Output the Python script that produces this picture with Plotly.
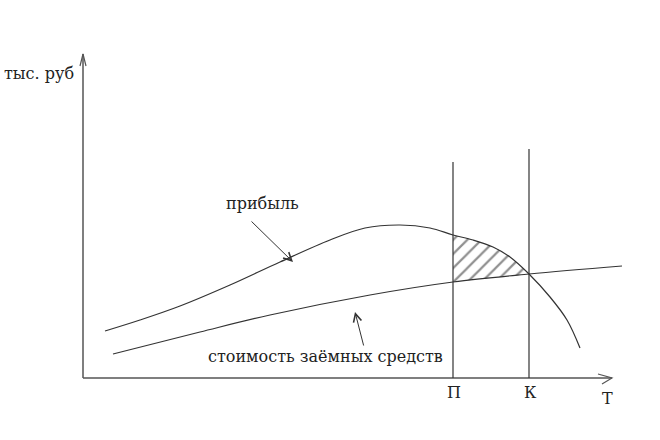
import plotly.graph_objects as go

# ---- data (arbitrary units: T on x, тыс. руб on y) ----
profit_x = [22, 57, 97, 147, 197, 247, 282, 317, 347, 370, 390, 410, 427, 446, 467, 484, 497]
profit_y = [47, 58, 72, 93, 116, 138, 150, 153, 150, 143, 138, 131, 121, 104, 81, 58, 30]

cost_x = [30, 117, 187, 287, 370, 446, 539]
cost_y = [24, 46, 63, 83, 96, 104, 112]

P_x = 370   # point П
K_x = 446   # point К
tick_vals = [P_x, K_x]
tick_text = ["П", "К"]

# hatched zone between П and К
hatch_profit_x = [370, 390, 410, 427, 446]
hatch_profit_y = [143, 138, 131, 121, 104]
hatch_cost_x = [370, 446]
hatch_cost_y = [96, 104]

X_END = 529
Y_END = 324

line_col = "#333333"
axis_col = "#555555"
text_col = "#222222"
FONT = "DejaVu Serif"

fig = go.Figure()
fig.add_trace(go.Scatter(x=profit_x, y=profit_y, mode="lines",
                         line=dict(color=line_col, width=1.2, shape="spline", smoothing=1.0),
                         hoverinfo="skip"))
fig.add_trace(go.Scatter(x=cost_x, y=cost_y, mode="lines",
                         line=dict(color=line_col, width=1.2, shape="spline"),
                         hoverinfo="skip"))
fig.add_trace(go.Scatter(x=hatch_cost_x, y=hatch_cost_y, mode="lines",
                         line=dict(width=0), hoverinfo="skip"))
fig.add_trace(go.Scatter(x=hatch_profit_x, y=hatch_profit_y, mode="lines",
                         line=dict(width=0, shape="spline"), fill="tonexty",
                         fillcolor="rgba(0,0,0,0)",
                         fillpattern=dict(shape="/", size=10, solidity=0.22,
                                          fgcolor="#222222", bgcolor="rgba(0,0,0,0)"),
                         hoverinfo="skip"))

shapes = [
    # axes
    dict(type="line", x0=0, y0=0, x1=X_END, y1=0, line=dict(color=axis_col, width=1.5)),
    dict(type="line", x0=0, y0=0, x1=0, y1=Y_END, line=dict(color=axis_col, width=1.5)),
    dict(type="path", path=f"M -3,{Y_END-12} L 0,{Y_END} L 3,{Y_END-12}",
         line=dict(color=axis_col, width=1.2)),
    dict(type="path", path=f"M {X_END-14},4 L {X_END},0 L {X_END-10},-6",
         line=dict(color=axis_col, width=1.2)),
    # verticals П and К
    dict(type="line", x0=P_x, y0=0, x1=P_x, y1=216, line=dict(color=line_col, width=1.2)),
    dict(type="line", x0=K_x, y0=0, x1=K_x, y1=229, line=dict(color=line_col, width=1.2)),
]

def label(x, y, text, xanchor="center"):
    return dict(x=x, y=y, text=text, showarrow=False, xanchor=xanchor, yanchor="middle",
                font=dict(family=FONT, size=16, color=text_col))

annotations = [
    label(-7, 305, "тыс. руб", xanchor="right"),
    label(179, 175, "прибыль"),
    label(242, 22, "стоимость заёмных средств"),
    label(X_END - 5, -20, "Т"),
]
for tv, tt in zip(tick_vals, tick_text):
    annotations.append(label(tv + 1, -14, tt))

annotations += [
    # pointer arrows
    dict(x=210, y=116, ax=167, ay=158, xref="x", yref="y", axref="x", ayref="y",
         text="", showarrow=True, arrowhead=5, arrowsize=1.6, arrowwidth=1,
         arrowcolor=line_col),
    dict(x=272, y=66, ax=281, ay=31, xref="x", yref="y", axref="x", ayref="y",
         text="", showarrow=True, arrowhead=5, arrowsize=1.6, arrowwidth=1,
         arrowcolor=line_col),
]

fig.update_layout(
    width=660, height=440,
    margin=dict(l=0, r=0, t=0, b=0),
    plot_bgcolor="white", paper_bgcolor="white",
    showlegend=False,
    shapes=shapes, annotations=annotations,
    xaxis=dict(range=[-83, 577], showgrid=False, zeroline=False, showline=False,
               showticklabels=False, ticks="", fixedrange=True),
    yaxis=dict(range=[-62, 378], showgrid=False, zeroline=False, showline=False,
               showticklabels=False, ticks="", fixedrange=True),
)

fig.write_html("out.html", config={"displayModeBar": False},
               post_script="document.body.style.margin='0px';")
